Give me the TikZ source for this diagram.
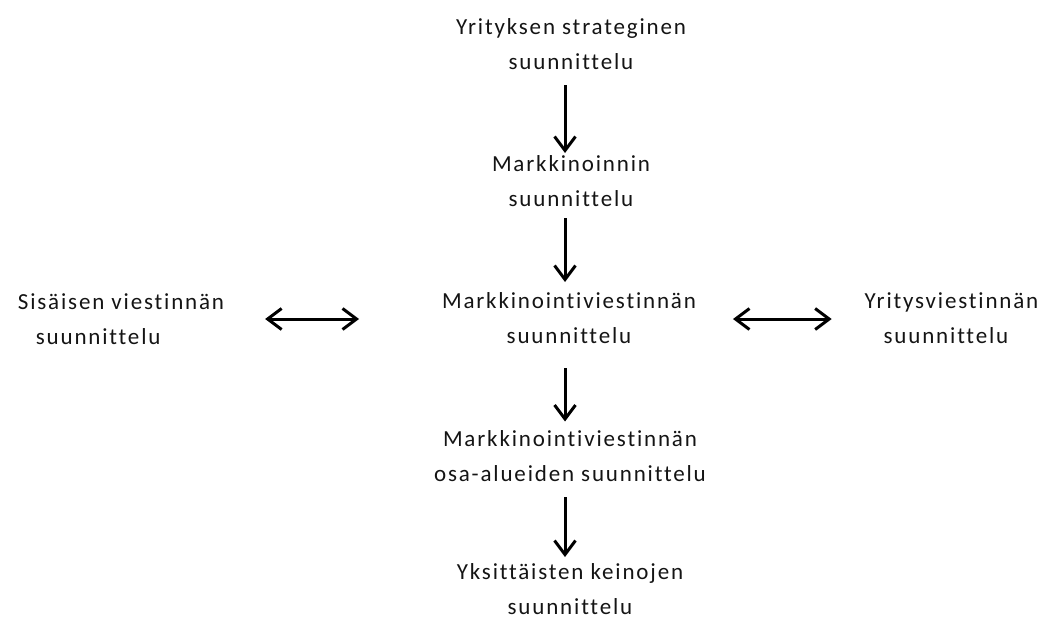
\documentclass[tikz,border=0pt]{standalone}
\usepackage{fontspec}
\setmainfont[LetterSpace=8,Ligatures=NoCommon,RawFeature=-liga]{Carlito}
\usetikzlibrary{arrows.meta}
\tikzset{
  lbl/.style={inner sep=0pt, outer sep=0pt, font=\fontsize{23}{35}\selectfont, text=black!92},
  tip/.style={},
  arr/.style={line width=3pt, -{Straight Barb[length=14pt,width=21pt,line width=3pt]}},
  dbl/.style={line width=3pt, {Straight Barb[length=14pt,width=21pt,line width=3pt]}-{Straight Barb[length=14pt,width=21pt,line width=3pt]}}
}
\begin{document}
\begin{tikzpicture}[x=1pt,y=-1pt]
\useasboundingbox (0,0) rectangle (1050,619);
\coordinate (ax) at (565,0);
\node[lbl, align=center] (n1) at (571,44.5) {\strut Yrityksen strateginen\\suunnittelu\strut};
\node[lbl, align=center] (n2) at (571,181.5) {\strut Markkinoinnin\\suunnittelu\strut};
\node[lbl, align=center] (n3) at (569,318.5) {\strut Markkinointiviestinnän\\suunnittelu\strut};
\node[lbl, align=left] (nl) at (121,319.5) {\strut Sisäisen viestinnän\\\hspace*{18pt}suunnittelu\strut};
\node[lbl, align=left] (nr) at (951.5,319) {\strut Yritysviestinnän\\\hspace*{19pt}suunnittelu\strut};
\node[lbl, align=center] (n4) at (570,456.5) {\strut Markkinointiviestinnän\\osa-alueiden suunnittelu\strut};
\node[lbl, align=center] (n5) at (570,590) {\strut Yksittäisten keinojen\\suunnittelu\strut};

\draw[arr, shorten <=5.5pt, shorten >=-6.5pt] (n1.south -| ax) -- (n2.north -| ax);
\draw[arr, shorten <=1.5pt, shorten >=1.5pt] (n2.south -| ax) -- (n3.north -| ax);
\draw[arr, shorten <=14.5pt, shorten >=0pt] (n3.south -| ax) -- (n4.north -| ax);
\draw[arr, shorten <=5.5pt, shorten >=-2pt] (n4.south -| ax) -- (n5.north -| ax);

\draw[dbl, shorten <=41pt, shorten >=83pt] (nl.east |- 0,319) -- (n3.west |- 0,319);
\draw[dbl, shorten <=37pt, shorten >=33pt] (n3.east |- 0,319) -- (nr.west |- 0,319);
\end{tikzpicture}
\end{document}
